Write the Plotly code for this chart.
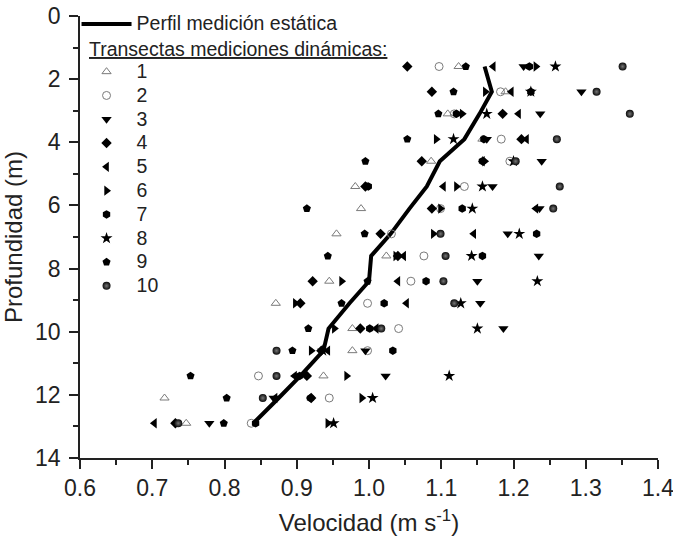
import plotly.graph_objects as go

# Depth levels (m)
depths = [1.6, 2.4, 3.1, 3.9, 4.6, 5.4, 6.1, 6.9, 7.6, 8.4, 9.1, 9.9, 10.6, 11.4, 12.1, 12.9]

# Static measurement profile (m/s)
profile = [1.160, 1.170, 1.153, 1.132, 1.098, 1.080, 1.056, 1.030, 1.003, 1.000,
           0.973, 0.944, 0.937, 0.905, 0.875, 0.840]

# Dynamic transects (m/s), one value per depth level
t1 = [1.124, 1.189, 1.109, 1.157, 1.086, 0.981, 0.989, 0.955, 1.024, 0.945, 0.871, 0.977, 0.977, 0.937, 0.717, 0.747]
t2 = [1.097, 1.182, 1.118, 1.183, 1.195, 1.132, 1.099, 1.031, 1.076, 1.058, 0.998, 1.041, 0.998, 0.847, 0.945, 0.837]
t3 = [1.214, 1.294, 1.237, 1.163, 1.239, 1.171, 1.236, 1.192, 1.235, 1.150, 1.154, 1.186, 0.995, 1.023, 0.868, 0.779]
t4 = [1.053, 1.087, 1.185, 1.211, 1.073, 0.995, 1.087, 1.016, 1.040, 0.922, 0.905, 0.988, 0.934, 0.914, 0.920, 0.732]
t5 = [1.172, 1.197, 1.207, 1.218, 1.157, 1.103, 1.231, 1.145, 1.048, 1.040, 1.052, 1.010, 0.943, 0.897, 0.870, 0.703]
t6 = [1.231, 1.161, 1.129, 1.093, 1.160, 1.121, 1.099, 1.089, 1.037, 0.962, 0.898, 0.952, 0.920, 0.969, 0.990, 0.943]
t7 = [1.222, 1.224, 1.121, 1.159, 1.157, 0.999, 1.129, 1.232, 1.157, 1.079, 1.021, 1.001, 1.033, 0.904, 0.919, 0.843]
t8 = [1.258, 1.224, 1.163, 1.117, 1.200, 1.157, 1.143, 1.208, 1.142, 1.233, 1.127, 1.150, 0.936, 1.111, 1.005, 0.951]
t9 = [1.134, 1.117, 1.096, 1.053, 0.995, 0.997, 0.914, 0.994, 0.943, 0.998, 0.962, 0.916, 0.894, 0.753, 0.803, 0.799]
t10 = [1.351, 1.315, 1.361, 1.260, 1.203, 1.264, 1.255, 1.099, 1.106, 1.103, 1.118, 1.017, 0.872, 0.872, 0.853, 0.736]

transects = [t1, t2, t3, t4, t5, t6, t7, t8, t9, t10]
transect_names = ["1", "2", "3", "4", "5", "6", "7", "8", "9", "10"]

line_name = "Perfil medición estática"
header_text = "Transectas mediciones dinámicas:"
x_title = "Velocidad (m s<sup>-1</sup>)"
y_title = "Profundidad (m)"
x_ticks = [0.6, 0.7, 0.8, 0.9, 1.0, 1.1, 1.2, 1.3, 1.4]
y_ticks = [0, 2, 4, 6, 8, 10, 12, 14]

styles = [
    dict(symbol="triangle-up-open", color="#7a7a7a", size=8, line=dict(width=1, color="#7a7a7a")),
    dict(symbol="circle-open", color="#7a7a7a", size=8, line=dict(width=1, color="#7a7a7a")),
    dict(symbol="triangle-down", color="black", size=9),
    dict(symbol="diamond", color="black", size=8),
    dict(symbol="triangle-left", color="black", size=9),
    dict(symbol="triangle-right", color="black", size=9),
    dict(symbol="hexagon", color="black", size=8.5),
    dict(symbol="star", color="black", size=9),
    dict(symbol="pentagon", color="black", size=8.5),
    dict(symbol="circle", color="#0a0a0a", size=8, gradient=dict(type="radial", color="#777777")),
]

LEG = '<span style="font-size:19.5px">{}</span>'

fig = go.Figure()
fig.add_trace(go.Scatter(x=profile, y=depths, mode="lines", name=LEG.format(line_name),
                         line=dict(color="black", width=4)))
# blank legend row reserved for the header text
fig.add_trace(go.Scatter(x=[None], y=[None], mode="markers", name="&nbsp;",
                         marker=dict(color="rgba(0,0,0,0)"), hoverinfo="skip"))
for vals, nm, st in zip(transects, transect_names, styles):
    fig.add_trace(go.Scatter(x=vals, y=depths, mode="markers", name=LEG.format(nm), marker=st))

axis_font = dict(family="Liberation Sans, Arial", size=23, color="#222")
title_font = dict(family="Liberation Sans, Arial", size=24, color="#222")

fig.update_layout(
    width=673, height=539,
    margin=dict(l=80, r=15, t=16, b=81, autoexpand=False),
    paper_bgcolor="white", plot_bgcolor="white",
    font=dict(family="Liberation Sans, Arial", color="#222"),
    showlegend=True,
    legend=dict(x=-0.006, y=1.020, xanchor="left", yanchor="top",
                font=dict(family="Liberation Sans, Arial", size=16, color="#222"),
                bgcolor="rgba(0,0,0,0)", itemwidth=50, traceorder="normal",
                maxheight=520),
    annotations=[dict(xref="paper", yref="paper", x=0.0113, y=0.9253, xanchor="left", yanchor="middle",
                      text="<u>" + header_text + "</u>", showarrow=False,
                      font=dict(family="Liberation Sans, Arial", size=19.5, color="#222"))],
)
fig.update_xaxes(range=[0.6, 1.4], tickmode="array", tickvals=x_ticks,
                 ticktext=["%.1f" % v for v in x_ticks], ticklabeloverflow="allow", automargin=False,
                 showline=True, linecolor="#222", linewidth=1.5, mirror=False,
                 ticks="outside", ticklen=9, tickwidth=1.5, tickcolor="#222",
                 minor=dict(dtick=0.05, tick0=0.6, ticks="outside", ticklen=5, tickwidth=1.5, tickcolor="#222"),
                 showgrid=False, zeroline=False, tickfont=axis_font,
                 title=dict(text=x_title, font=title_font, standoff=14))
fig.update_yaxes(range=[14, 0], tickmode="array", tickvals=y_ticks, ticklabeloverflow="allow", automargin=False,
                 showline=True, linecolor="#222", linewidth=1.5, mirror=False,
                 ticks="outside", ticklen=9, tickwidth=1.5, tickcolor="#222",
                 minor=dict(dtick=1, tick0=0, ticks="outside", ticklen=5, tickwidth=1.5, tickcolor="#222"),
                 showgrid=False, zeroline=False, tickfont=axis_font, ticklabelstandoff=4,
                 title=dict(text=y_title, font=title_font, standoff=8))

fig.write_html("out.html")
